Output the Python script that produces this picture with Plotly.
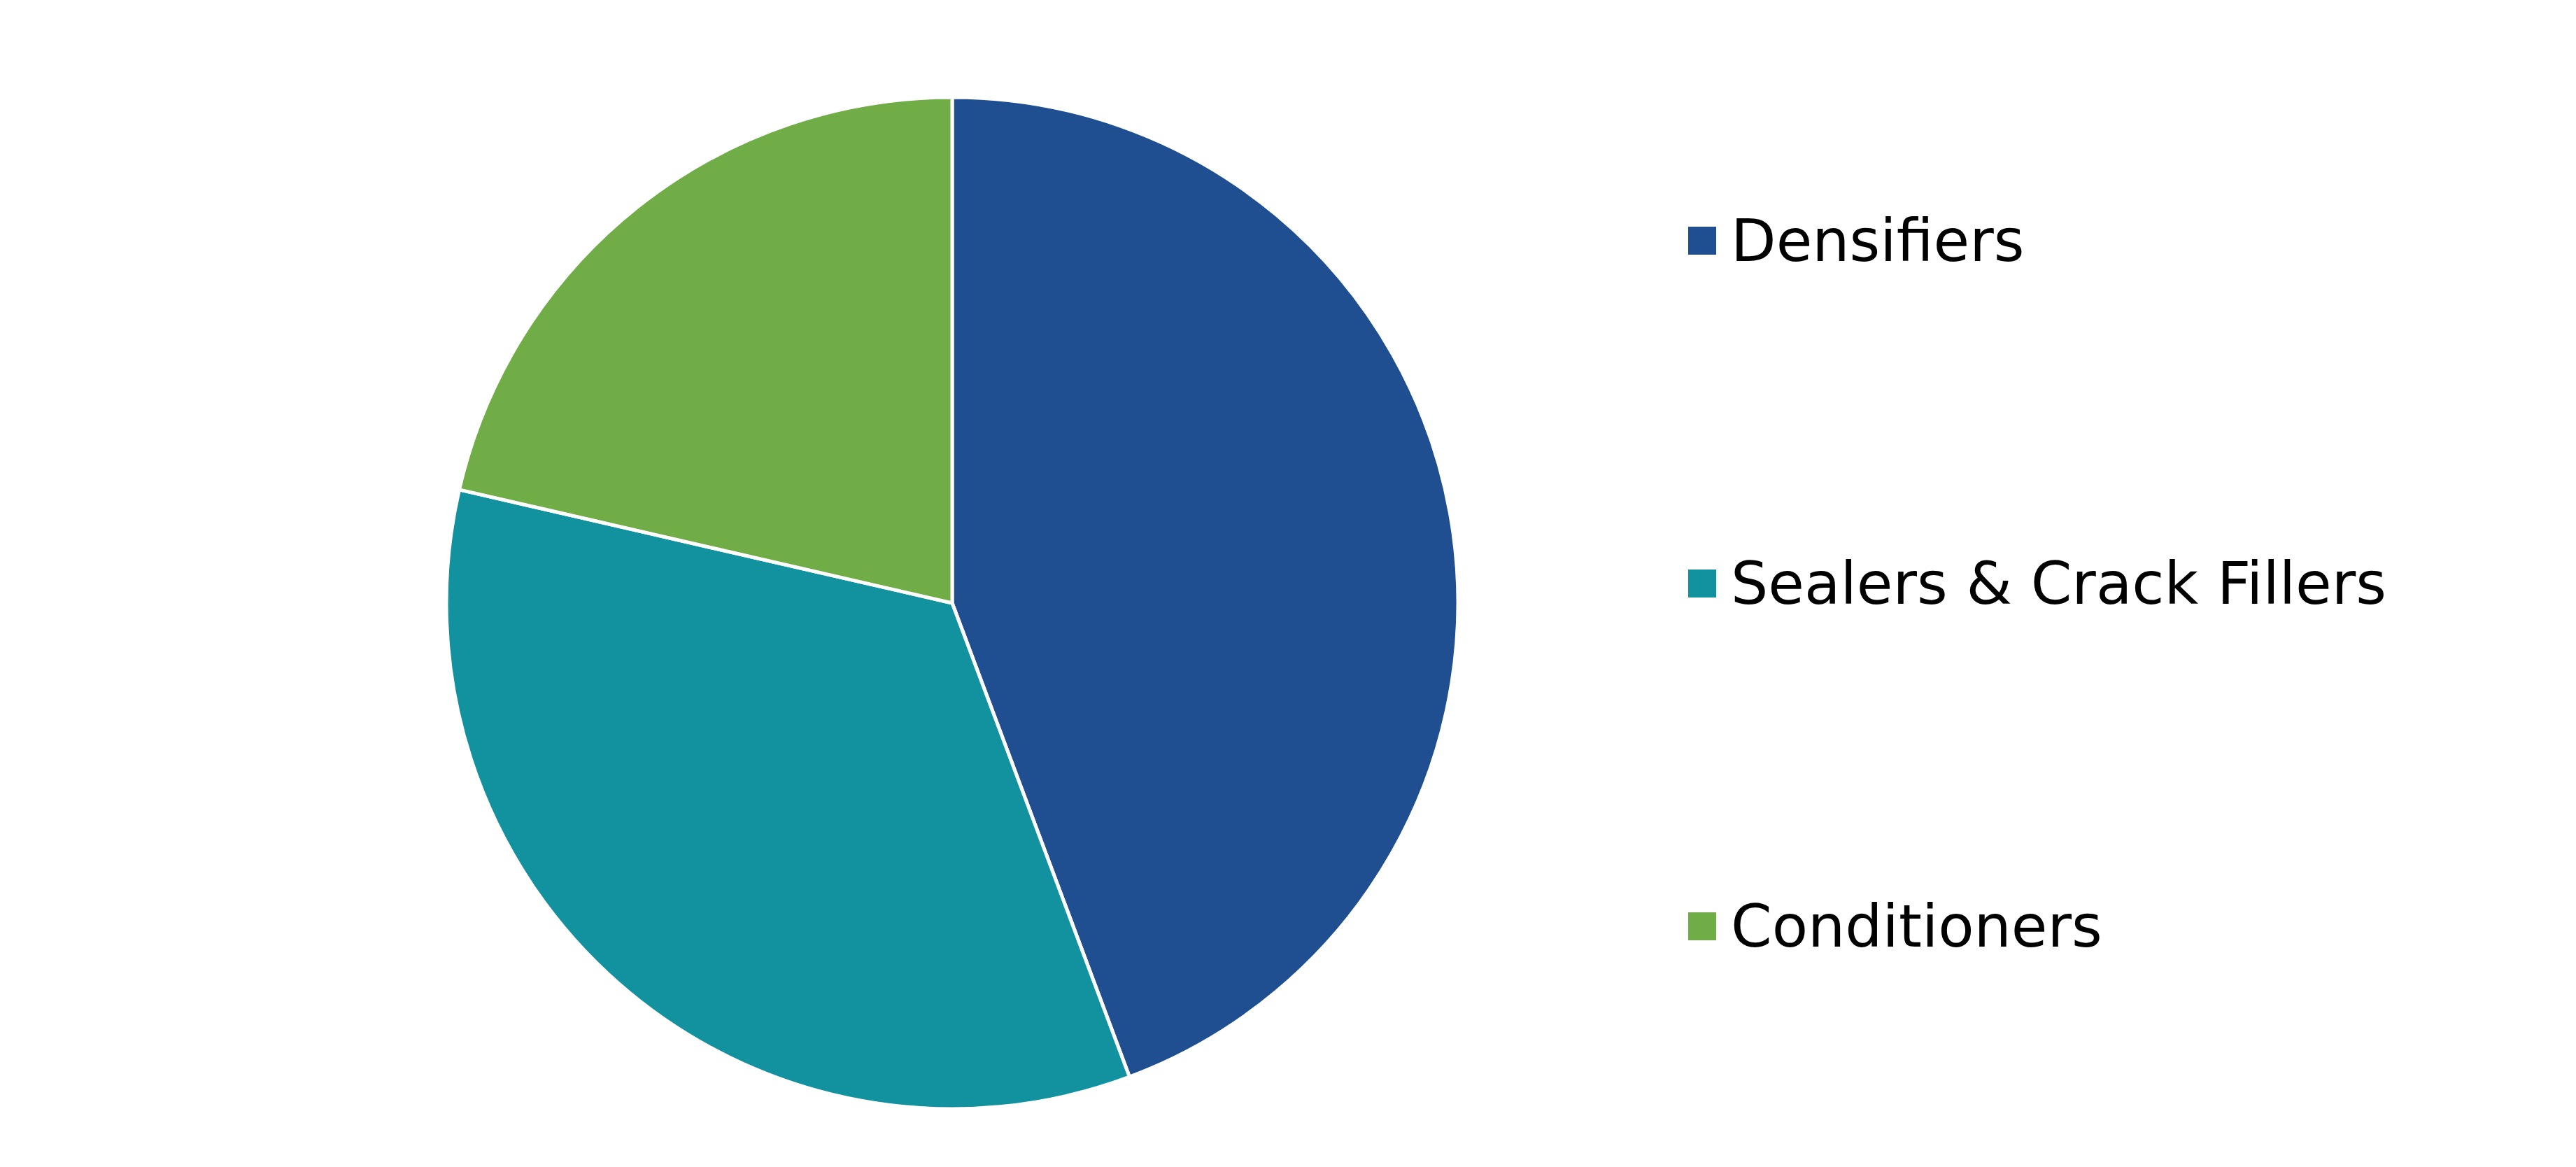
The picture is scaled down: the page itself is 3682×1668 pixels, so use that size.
import plotly.graph_objects as go

W, H = 3682, 1668

categories = ["Densifiers", "Sealers & Crack Fillers", "Conditioners"]
shares = [44.3, 34.3, 21.4]
colors = ["#1F4E91", "#12919E", "#70AD47"]

cx, cy, r = 1361, 862, 723  # pie centre and radius in pixels

fig = go.Figure()
fig.add_trace(go.Pie(
    labels=categories,
    values=shares,
    sort=False,
    direction="clockwise",
    rotation=0,
    textinfo="none",
    showlegend=False,
    marker=dict(colors=colors, line=dict(color="white", width=5)),
    domain=dict(x=[(cx - r) / W, (cx + r) / W],
                y=[(H - cy - r) / H, (H - cy + r) / H]),
))

# Custom legend (large square swatches as in the reference)
leg_x0, leg_sw = 2413, 40
leg_text_x = 2472
leg_y = [344, 834, 1324]
shapes, annotations = [], []
for name, col, yy in zip(categories, colors, leg_y):
    shapes.append(dict(type="rect", xref="paper", yref="paper",
                       x0=leg_x0 / W, x1=(leg_x0 + leg_sw) / W,
                       y0=1 - (yy + leg_sw / 2) / H, y1=1 - (yy - leg_sw / 2) / H,
                       fillcolor=col, line=dict(width=0)))
    annotations.append(dict(text=name, xref="paper", yref="paper",
                            x=leg_text_x / W, y=1 - yy / H,
                            xanchor="left", yanchor="middle", showarrow=False,
                            font=dict(family="DejaVu Sans", size=84, color="black")))

fig.update_layout(
    width=W, height=H,
    margin=dict(l=0, r=0, t=0, b=0),
    paper_bgcolor="white", plot_bgcolor="white",
    shapes=shapes, annotations=annotations,
)

fig.write_html("out.html",
               config={"displayModeBar": False},
               post_script="document.body.style.margin='0';document.body.style.overflow='hidden';")
